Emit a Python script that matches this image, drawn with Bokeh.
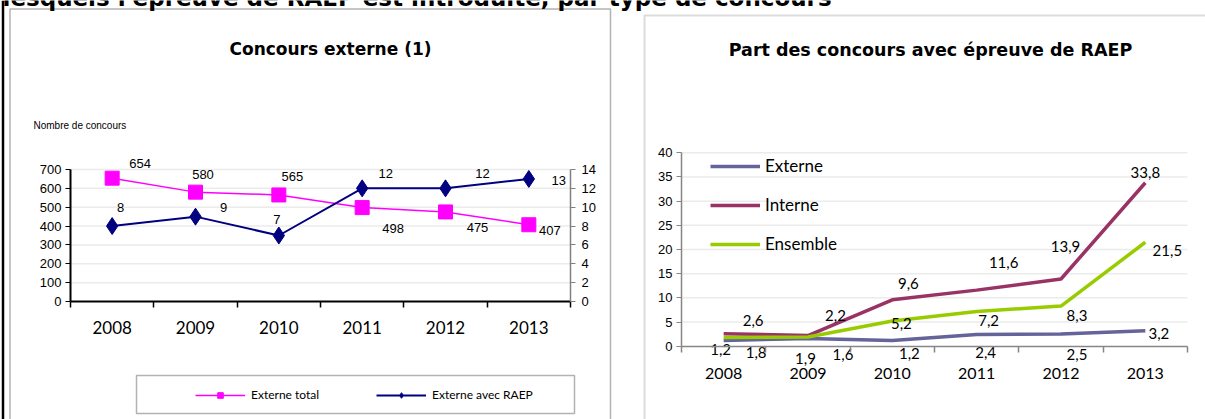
from bokeh.plotting import figure
from bokeh.models import (Range1d, LinearAxis, FixedTicker, Legend, LegendItem,
                          Label, BoxAnnotation, Span)
from bokeh.embed import file_html
from bokeh.resources import INLINE
from bokeh.core.properties import value

# ---------------- data ----------------
years = ["2008", "2009", "2010", "2011", "2012", "2013"]
externe_total = [654, 580, 565, 498, 475, 407]
externe_raep = [8, 9, 7, 12, 12, 13]

part_externe = [1.2, 1.6, 1.2, 2.4, 2.5, 3.2]
part_interne = [2.6, 2.2, 9.6, 11.6, 13.9, 33.8]
part_ensemble = [1.8, 1.9, 5.2, 7.2, 8.3, 21.5]

ticks_nombre = [0, 100, 200, 300, 400, 500, 600, 700]
ticks_raep = [0, 2, 4, 6, 8, 10, 12, 14]
ticks_part = [0, 5, 10, 15, 20, 25, 30, 35, 40]

heading = "lesquels l'épreuve de RAEP est introduite, par type de concours"
title_left = "Concours externe (1)"
title_right = "Part des concours avec épreuve de RAEP"
ylabel_left = "Nombre  de  concours"
legend_left = ["Externe total", "Externe avec RAEP"]
legend_right = ["Externe", "Interne", "Ensemble"]

# ---------------- label placement (screen px offsets, styling only) ----------------
off_total = [(28, -15), (7.5, -17.6), (13.5, -18), (31, 21), (32, 16), (21, 5.6)]
off_raep = [(8.5, -19), (28, -9.6), (-2, -16), (23.5, -15), (37, -15), (30, 1.3)]
off_ext = [(-3, 9.4), (35, 16), (17, 13), (9, 17.6), (16, 20), (13.5, 2.5)]
off_int = [(29.5, -13), (27.5, -20), (16, -16), (27, -28), (4.5, -32.5), (0, -10.6)]
off_ens = [(32.5, 15), (-2.5, 21), (9, 2.4), (12, 9), (16, 9.4), (22, 8)]

# ---------------- pixel layout ----------------
W, H = 1205, 419
LX0, LX1, LY_TOP, LY_BOT = 70, 570, 169, 301          # left plot area
RX0, RX1, RY_TOP, RY_BOT = 681, 1187, 152.3, 345.7    # right plot area

n = len(years)
xs = [i + 0.5 for i in range(n)]
bounds = list(range(n + 1))
year_labels = {x: y for x, y in zip(xs, years)}

ux = (LX1 - LX0) / n
uy = (LY_BOT - LY_TOP) / ticks_nombre[-1]
uyr = (LY_BOT - LY_TOP) / ticks_raep[-1]
ux2 = (RX1 - RX0) / n
uy2 = (RY_BOT - RY_TOP) / ticks_part[-1]


def fr(v):
    return f"{v:.1f}".replace(".", ",")


p = figure(width=W, height=H, output_backend="svg", toolbar_location=None,
           x_axis_type=None, y_axis_type=None,
           x_range=Range1d(-LX0 / ux, (W - LX0) / ux),
           y_range=Range1d(-(H - LY_BOT) / uy, LY_BOT / uy),
           min_border=0)
p.extra_y_ranges = {"raep": Range1d(-(H - LY_BOT) / uyr, LY_BOT / uyr),
                    "ry": Range1d(-(H - RY_BOT) / uy2, RY_BOT / uy2)}
p.extra_x_ranges = {"rx": Range1d(-RX0 / ux2, (W - RX0) / ux2)}
p.outline_line_color = None
p.background_fill_color = "white"
p.border_fill_color = "white"


def style_x(ax, color, width, font_size, standoff):
    ax.ticker = FixedTicker(ticks=xs, minor_ticks=bounds)
    ax.major_label_overrides = year_labels
    ax.fixed_location = 0
    ax.bounds = (0, n)
    ax.major_tick_line_color = None
    ax.major_tick_out = 6
    ax.major_tick_in = 0
    ax.minor_tick_in = 0
    ax.minor_tick_out = 6
    ax.minor_tick_line_color = color
    ax.minor_tick_line_width = 1.5
    ax.axis_line_color = color
    ax.axis_line_width = width
    ax.major_label_text_font = "Lato"
    ax.major_label_text_font_size = font_size
    ax.major_label_text_color = "black"
    ax.major_label_standoff = standoff


def style_y(ax, ticks, color, width, loc, standoff):
    ax.ticker = FixedTicker(ticks=ticks)
    ax.fixed_location = loc
    ax.bounds = (ticks[0], ticks[-1])
    ax.axis_line_color = color
    ax.axis_line_width = width
    ax.major_tick_line_color = color
    ax.major_tick_line_width = 1
    ax.major_tick_out = 5
    ax.major_tick_in = 0
    ax.minor_tick_line_color = None
    ax.major_label_text_font = "Liberation Sans"
    ax.major_label_text_font_size = "13px"
    ax.major_label_text_color = "black"
    ax.major_label_standoff = standoff


# ================= left chart =================
p.segment(x0=0, x1=n, y0=ticks_nombre[1:], y1=ticks_nombre[1:],
          line_color="#EBEBEB", line_width=1.5)

ax_lb = LinearAxis()
style_x(ax_lb, "black", 2, "17px", 13)
p.add_layout(ax_lb, "below")
ax_ll = LinearAxis()
style_y(ax_ll, ticks_nombre, "black", 2, 0, 4)
p.add_layout(ax_ll, "left")
ax_lr = LinearAxis(y_range_name="raep")
style_y(ax_lr, ticks_raep, "#808080", 1.5, n, 6)
p.add_layout(ax_lr, "right")

l_tot = p.line(xs, externe_total, line_color="#FF00FF", line_width=1.5)
m_tot = p.scatter(xs, externe_total, marker="square", size=14,
                  fill_color="#FF00FF", line_color="#FF00FF")
l_raep = p.line(xs, externe_raep, y_range_name="raep", line_color="#000080", line_width=2)
m_raep = p.scatter(xs, externe_raep, y_range_name="raep", marker="diamond", size=17,
                   fill_color="#000080", line_color="#000080")

p.text(x=xs, y=externe_total, text=[str(v) for v in externe_total],
       x_offset=[o[0] for o in off_total], y_offset=[o[1] for o in off_total],
       text_align="center", text_baseline="middle",
       text_font=value("Liberation Sans"), text_font_size="13px", text_color="black")
p.text(x=xs, y=externe_raep, text=[str(v) for v in externe_raep], y_range_name="raep",
       x_offset=[o[0] for o in off_raep], y_offset=[o[1] for o in off_raep],
       text_align="center", text_baseline="middle",
       text_font=value("Liberation Sans"), text_font_size="13px", text_color="black")

leg1 = Legend(items=[LegendItem(label=legend_left[0], renderers=[l_tot, m_tot]),
                     LegendItem(label=legend_left[1], renderers=[l_raep, m_raep])],
              orientation="horizontal", location=(195, H - 402),
              glyph_width=50, glyph_height=14, label_height=14, label_width=66,
              label_standoff=6, spacing=57, padding=0, margin=0,
              border_line_color=None, background_fill_alpha=0,
              label_text_font="Lato", label_text_font_size="12px",
              label_text_color="black")
p.add_layout(leg1)

# ================= right chart =================
p.segment(x0=0, x1=n, y0=ticks_part[1:], y1=ticks_part[1:],
          x_range_name="rx", y_range_name="ry", line_color="#EBEBEB", line_width=1.5)

ax_rb = LinearAxis(x_range_name="rx", y_range_name="ry")
style_x(ax_rb, "#868686", 1.5, "16px", 16)
p.add_layout(ax_rb, "below")
ax_rl = LinearAxis(x_range_name="rx", y_range_name="ry")
style_y(ax_rl, ticks_part, "#868686", 1.5, 0, 4)
p.add_layout(ax_rl, "left")

c_ext, c_int, c_ens = "#64649B", "#993366", "#99CC00"
r_ext = p.line(xs, part_externe, x_range_name="rx", y_range_name="ry",
               line_color=c_ext, line_width=3.5)
r_int = p.line(xs, part_interne, x_range_name="rx", y_range_name="ry",
               line_color=c_int, line_width=3.5)
r_ens = p.line(xs, part_ensemble, x_range_name="rx", y_range_name="ry",
               line_color=c_ens, line_width=3.5)

for vals, off in [(part_externe, off_ext), (part_interne, off_int), (part_ensemble, off_ens)]:
    p.text(x=xs, y=vals, text=[fr(v) for v in vals], x_range_name="rx", y_range_name="ry",
           x_offset=[o[0] for o in off], y_offset=[o[1] for o in off],
           text_align="center", text_baseline="middle",
           text_font=value("Lato"), text_font_size="15px", text_color="black")

leg2 = Legend(items=[LegendItem(label=legend_right[0], renderers=[r_ext]),
                     LegendItem(label=legend_right[1], renderers=[r_int]),
                     LegendItem(label=legend_right[2], renderers=[r_ens])],
              orientation="vertical", location=(710, H - 254),
              glyph_width=50, glyph_height=20, label_height=20,
              label_standoff=5, spacing=18, padding=0, margin=0,
              border_line_color=None, background_fill_alpha=0,
              label_text_font="Lato", label_text_font_size="17px",
              label_text_color="black")
p.add_layout(leg2)

# ================= frames and texts =================
def box(l, r, t, b, color, width):
    return BoxAnnotation(left=l, right=r, top=H - t, bottom=H - b,
                         left_units="screen", right_units="screen",
                         top_units="screen", bottom_units="screen",
                         fill_alpha=0, line_color=color, line_width=width)


p.add_layout(box(136, 574, 375, 413, "black", 1.5))       # legend frame
p.add_layout(box(9.5, 610, 8.5, 440, "black", 1.5))       # left panel
p.add_layout(box(644, 1300, 15, 440, "#8C8C8C", 2))       # right panel
p.add_layout(Span(location=2.5, dimension="height", location_units="screen",
                  line_color="black", line_width=2.5))

p.add_layout(Label(x=2, y=H + 3, x_units="screen", y_units="screen", text=heading,
                   text_align="left", text_baseline="alphabetic", text_color="black",
                   text_font="DejaVu Sans", text_font_style="bold", text_font_size="23px"))
p.add_layout(Label(x=330, y=H - 48, x_units="screen", y_units="screen", text=title_left,
                   text_align="center", text_baseline="middle", text_color="black",
                   text_font="DejaVu Sans", text_font_style="bold", text_font_size="17px"))
p.add_layout(Label(x=930, y=H - 49, x_units="screen", y_units="screen", text=title_right,
                   text_align="center", text_baseline="middle", text_color="black",
                   text_font="DejaVu Sans", text_font_style="bold", text_font_size="17.5px"))
p.add_layout(Label(x=33, y=H - 125, x_units="screen", y_units="screen", text=ylabel_left,
                   text_align="left", text_baseline="middle", text_color="black",
                   text_font="Liberation Sans", text_font_size="10px"))

with open("out.html", "w") as f:
    f.write(file_html(p, INLINE))
